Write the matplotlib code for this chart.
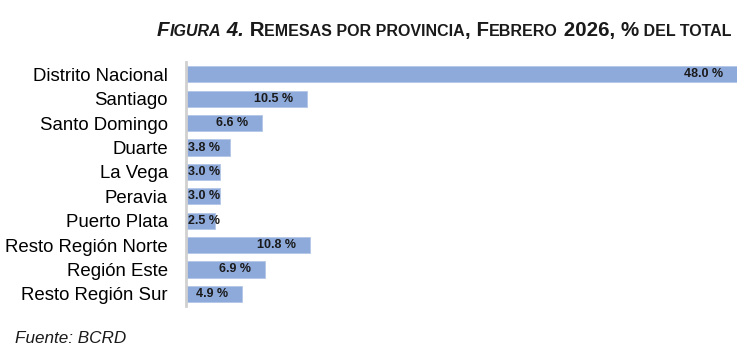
import matplotlib.pyplot as plt
import numpy as np

plt.rcParams["font.family"] = ["Liberation Sans", "DejaVu Sans"]

# Datos
provincias = [
    "Distrito Nacional",
    "Santiago",
    "Santo Domingo",
    "Duarte",
    "La Vega",
    "Peravia",
    "Puerto Plata",
    "Resto Región Norte",
    "Región Este",
    "Resto Región Sur",
]
porcentajes = [48.0, 10.5, 6.6, 3.8, 3.0, 3.0, 2.5, 10.8, 6.9, 4.9]

color_barra = "#8eaadb"

fig = plt.figure(figsize=(7.5, 3.53), dpi=100)
ax = fig.add_axes([0.248, 0.133, 0.735, 0.691])

y = np.arange(len(provincias))
ax.barh(y, porcentajes, height=0.66, color=color_barra, edgecolor="#b4c6e7", linewidth=0.6)
ax.set_xlim(0, 48)
ax.set_ylim(len(provincias) - 0.5, -0.5)
ax.set_yticks(y)
ax.set_yticklabels(provincias, fontsize=13.4)
ax.tick_params(axis="y", length=0, pad=13)
ax.set_xticks([])
for s in ["top", "right", "bottom"]:
    ax.spines[s].set_visible(False)
ax.spines["left"].set_color("#d0d0d0")
ax.spines["left"].set_linewidth(2)

# Etiquetas de valores dentro de las barras
for yi, v in zip(y, porcentajes):
    etiqueta = f"{v:.1f} %"
    if v < 4.2:
        ax.annotate(etiqueta, xy=(0, yi), xytext=(1.5, 0), textcoords="offset points",
                    ha="left", va="center", fontsize=9, fontweight="bold", color="#1a1a1a")
    else:
        ax.annotate(etiqueta, xy=(v, yi), xytext=(-10, 0), textcoords="offset points",
                    ha="right", va="center", fontsize=9, fontweight="bold", color="#1a1a1a")

# Título en versalitas (simulado con tamaños distintos)
grande, chica = 14.8, 11.5
piezas = [
    ("F", grande, "italic"),
    ("IGURA", chica, "italic"),
    (" 4.", grande, "italic"),
    (" R", grande, "normal"),
    ("EMESAS POR PROVINCIA", chica, "normal"),
    (", F", grande, "normal"),
    ("EBRERO", chica, "normal"),
    (" 2026, %", grande, "normal"),
    (" DEL TOTAL", chica, "normal"),
]
renderer = fig.canvas.get_renderer()
x_px = 157
y_base = 1 - 36 / 353
for texto, tam, estilo in piezas:
    t = fig.text(x_px / 750, y_base, texto, fontsize=tam, fontstyle=estilo,
                 fontweight="bold", ha="left", va="baseline", color="#1a1a1a")
    bb = t.get_window_extent(renderer=renderer)
    x_px = bb.x1

fig.text(15 / 750, 1 - 343 / 353, "Fuente: BCRD", fontsize=12.3, fontstyle="italic",
         ha="left", va="baseline", color="#1a1a1a")

fig.savefig("out.png", dpi=100, facecolor="white")
